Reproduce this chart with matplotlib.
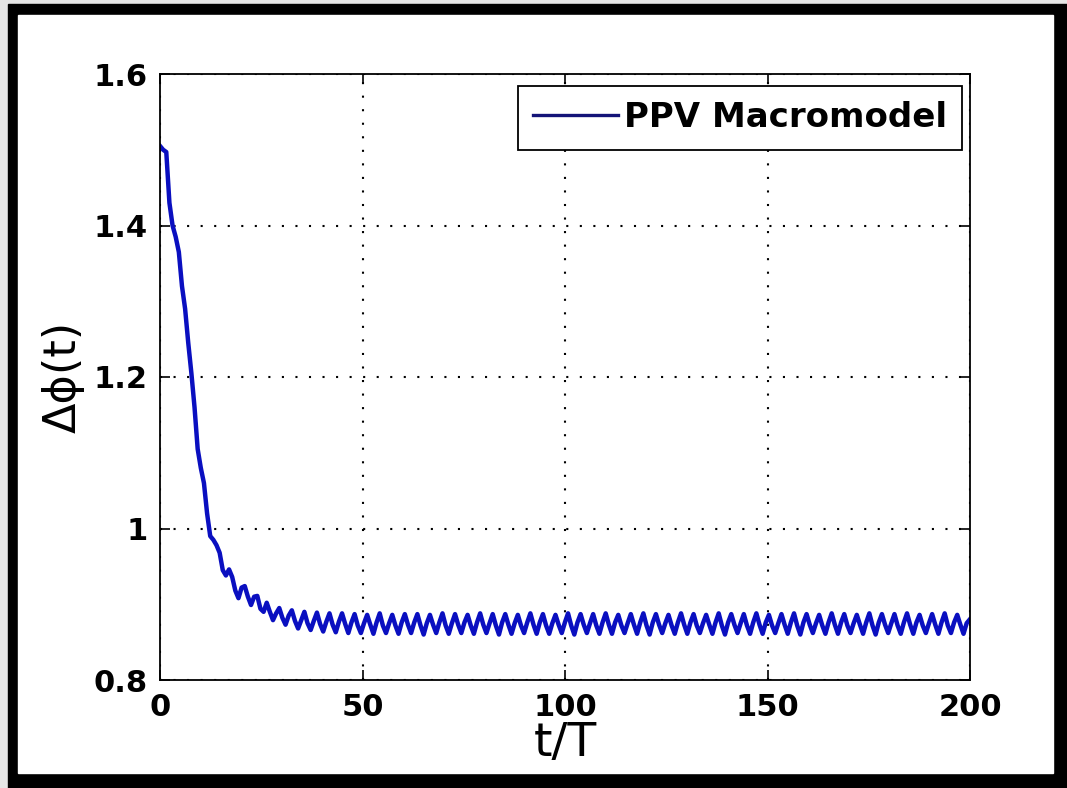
import numpy as np
import matplotlib
matplotlib.use('Agg')
import matplotlib.pyplot as plt
from matplotlib.patches import Rectangle

# sampling step of the trace (t/T units)
DT = 0.775

# transient part, first 45 samples
phase_start = [1.505, 1.500, 1.497, 1.430, 1.400, 1.385, 1.365, 1.320, 1.290, 1.245,
               1.205, 1.160, 1.105, 1.080, 1.060, 1.020, 0.990, 0.985, 0.978, 0.968,
               0.945, 0.938, 0.946, 0.936, 0.918, 0.908, 0.922, 0.924, 0.910, 0.899,
               0.910, 0.911, 0.894, 0.890, 0.902, 0.890, 0.879, 0.888, 0.895, 0.882,
               0.873, 0.885, 0.892, 0.878, 0.868]

# locked part, up to t/T = 200
phase_locked = [
    0.879, 0.890, 0.875, 0.866, 0.878, 0.889, 0.874, 0.864,
    0.877, 0.888, 0.873, 0.863, 0.877, 0.888, 0.874, 0.862,
    0.876, 0.887, 0.872, 0.862, 0.875, 0.886, 0.873, 0.861,
    0.876, 0.888, 0.872, 0.862, 0.875, 0.886, 0.872, 0.861,
    0.876, 0.887, 0.873, 0.862, 0.876, 0.887, 0.872, 0.860,
    0.875, 0.886, 0.873, 0.862, 0.876, 0.888, 0.872, 0.861,
    0.875, 0.887, 0.873, 0.862, 0.876, 0.886, 0.872, 0.861,
    0.876, 0.888, 0.873, 0.862, 0.875, 0.887, 0.872, 0.860,
    0.876, 0.887, 0.873, 0.861, 0.875, 0.886, 0.872, 0.862,
    0.876, 0.888, 0.873, 0.861, 0.876, 0.887, 0.872, 0.861,
    0.875, 0.886, 0.873, 0.862, 0.876, 0.888, 0.872, 0.860,
    0.876, 0.887, 0.873, 0.862, 0.875, 0.887, 0.872, 0.861,
    0.876, 0.888, 0.873, 0.861, 0.876, 0.886, 0.872, 0.862,
    0.875, 0.887, 0.873, 0.861, 0.876, 0.888, 0.872, 0.860,
    0.876, 0.887, 0.873, 0.862, 0.875, 0.886, 0.872, 0.861,
    0.876, 0.888, 0.873, 0.861, 0.876, 0.887, 0.872, 0.862,
    0.875, 0.886, 0.873, 0.861, 0.876, 0.888, 0.872, 0.860,
    0.876, 0.887, 0.873, 0.862, 0.875, 0.887, 0.872, 0.861,
    0.876, 0.888, 0.873, 0.861, 0.876, 0.886, 0.872, 0.862,
    0.875, 0.887, 0.873, 0.861, 0.876, 0.888, 0.872, 0.860,
    0.876, 0.887, 0.873, 0.862, 0.875, 0.886, 0.872, 0.861,
    0.876, 0.888, 0.873, 0.861, 0.876, 0.887, 0.872, 0.862,
    0.875, 0.886, 0.873, 0.861, 0.876, 0.888, 0.872, 0.860,
    0.876, 0.887, 0.873, 0.862, 0.875, 0.887, 0.872, 0.861,
    0.876, 0.888, 0.873, 0.861, 0.876, 0.886, 0.872, 0.862,
    0.875, 0.887, 0.873, 0.861, 0.876, 0.888, 0.872, 0.862,
    0.876, 0.886, 0.873, 0.861, 0.875, 0.880,
]

xticks = [0, 50, 100, 150, 200]
yticks = [0.8, 1.0, 1.2, 1.4, 1.6]
ytick_labels = ['0.8', '1', '1.2', '1.4', '1.6']
legend_label = 'PPV Macromodel'

dphi = np.array(phase_start + phase_locked)
t = np.arange(len(dphi)) * DT

W, H = 1067, 788
fig = plt.figure(figsize=(W / 100, H / 100), dpi=100, facecolor='#e6e6e6')

# black frame and white canvas (pixel boxes -> figure fraction)
def px_rect(x0, y0, x1, y1, color):
    fig.patches.append(Rectangle((x0 / W, 1 - y1 / H), (x1 - x0) / W, (y1 - y0) / H,
                                 transform=fig.transFigure, color=color, zorder=-10))

px_rect(8, 4, W, H, 'black')
px_rect(18, 15, 1053, 773, 'white')

ax = fig.add_axes([160 / W, 1 - 680 / H, 810 / W, 606 / H])
ax.plot(t, dphi, color='#0a0fc0', lw=3.2, label=legend_label)

ax.set_xlim(0, 200)
ax.set_ylim(0.8, 1.6)
ax.set_xticks(xticks)
ax.set_yticks(yticks)
ax.set_yticklabels(ytick_labels)
ax.tick_params(direction='in', length=7, width=1.2, top=True, right=True,
               labelsize=22, pad=9)
for lab in ax.get_xticklabels() + ax.get_yticklabels():
    lab.set_fontweight('bold')
ax.grid(True, color='black', linestyle=(0, (1, 5.5)), linewidth=1.5)
for s in ax.spines.values():
    s.set_linewidth(1.3)

ax.set_xlabel('t/T', fontsize=34, labelpad=0)
ax.set_ylabel('Δϕ(t)', fontsize=32, labelpad=6)

leg = ax.legend(loc='upper right', bbox_to_anchor=(1 - 8 / 810, 1 - 12 / 606),
                borderaxespad=0, fancybox=False, framealpha=1, edgecolor='black',
                prop={'size': 24.5, 'weight': 'bold'}, handlelength=2.5,
                handletextpad=0.15, borderpad=0.45)
leg.get_frame().set_linewidth(1.3)
leg.get_lines()[0].set_linewidth(2.4)
leg.get_lines()[0].set_color('#141478')

fig.savefig('out.png', dpi=100, facecolor=fig.get_facecolor())
